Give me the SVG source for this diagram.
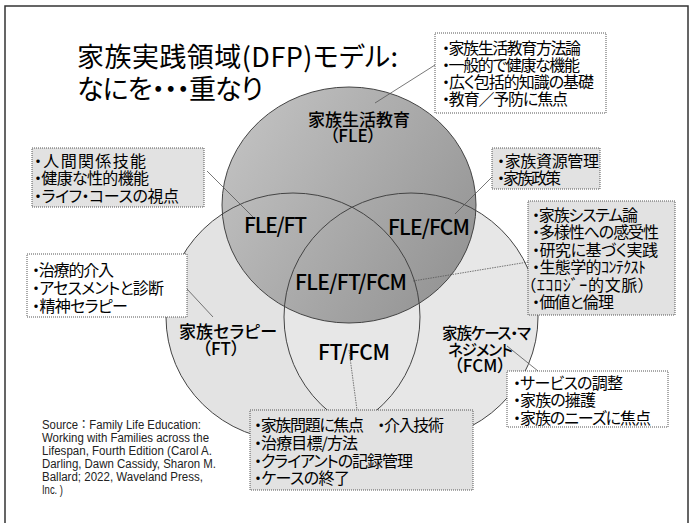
<svg xmlns="http://www.w3.org/2000/svg" width="693" height="523" viewBox="0 0 693 523">
<defs>
<linearGradient id="gFLE" x1="0" y1="0" x2="1" y2="0.6">
<stop offset="0" stop-color="#c6c6c6"/>
<stop offset="1" stop-color="#979797"/>
</linearGradient>
<style>
.jp{font-family:"Noto Sans CJK JP","Noto Sans",sans-serif;font-feature-settings:"palt";fill:#000;}
.bt{font-size:16px;}
.lbl{font-size:17px;font-weight:500;}
.lbs{font-size:15.5px;font-weight:500;}
.ab{font-size:21px;font-weight:500;}
.mid{text-anchor:middle;}
.src{font-family:"Liberation Sans","Noto Sans CJK JP",sans-serif;font-size:12.5px;fill:#222;}
.box{stroke:#555;stroke-width:1;stroke-dasharray:1 1;}
.gbox{fill:#e2e2e2;}
.wbox{fill:#ffffff;}
.outl{fill:none;stroke:#444;stroke-width:1;}
.leader{stroke:#555;stroke-width:0.8;fill:none;}
.dot{stroke-dasharray:1.5 1;}
</style>
</defs>
<rect x="0" y="0" width="693" height="523" fill="#ffffff"/>
<rect x="5" y="6" width="683" height="530" fill="none" stroke="#333" stroke-width="1.5"/>

<g id="title">
<text class="jp" x="77" y="67" font-size="27" textLength="321">家族実践領域(DFP)モデル:</text>
<text class="jp" x="77" y="99" font-size="27" textLength="186">なにを・・・重なり</text>
</g>

<g id="circle-fills">
<ellipse cx="293" cy="317" rx="127" ry="124" fill="#e3e3e3"/>
<ellipse cx="411" cy="317" rx="127" ry="124" fill="#e7e7e7"/>
<ellipse cx="349" cy="205" rx="127" ry="118" fill="url(#gFLE)"/>
</g>
<g id="circle-outlines">
<ellipse class="outl" cx="293" cy="317" rx="127" ry="124"/>
<ellipse class="outl" cx="411" cy="317" rx="127" ry="124"/>
<ellipse class="outl" cx="349" cy="205" rx="127" ry="118"/>
</g>

<g id="FLE">
<text class="jp lbl" x="308" y="125.5">家族生活教育</text>
<text class="jp lbl mid" x="353" y="141.5">（FLE）</text>
</g>
<g id="FT">
<text class="jp lbl" x="179" y="337.5" textLength="98">家族セラピー</text>
<text class="jp lbl mid" x="221" y="354.5">（FT）</text>
</g>
<g id="FCM">
<text class="jp lbs" x="442" y="339" textLength="89">家族ケース・マ</text>
<text class="jp lbs" x="448" y="356" textLength="65">ネジメント</text>
<text class="jp lbl mid" x="480" y="372">（FCM）</text>
</g>
<g id="FLE-FT"><text class="jp ab" x="244" y="233" textLength="63">FLE/FT</text></g>
<g id="FLE-FCM"><text class="jp ab" x="388" y="235" textLength="82">FLE/FCM</text></g>
<g id="FLE-FT-FCM"><text class="jp ab" x="295" y="290" textLength="112">FLE/FT/FCM</text></g>
<g id="FT-FCM"><text class="jp ab" x="318" y="360" textLength="72">FT/FCM</text></g>

<g id="connectors">
<line class="leader" x1="435" y1="65" x2="375" y2="103"/>
<line class="leader" x1="207" y1="171" x2="253" y2="217"/>
<line class="leader" x1="492" y1="177" x2="455" y2="214"/>
<line class="leader dot" x1="528" y1="262" x2="413" y2="281"/>
<line class="leader" x1="187" y1="289" x2="213" y2="317"/>
<line class="leader dot" x1="349" y1="350" x2="357" y2="410"/>
<line class="leader" x1="507" y1="346" x2="538" y2="371"/>
</g>

<g id="box-FLE">
<rect class="box wbox" x="435" y="33" width="171" height="80"/>
<text class="jp bt" x="442" y="53.5" textLength="139">・家族生活教育方法論</text>
<text class="jp bt" x="442" y="70.5" textLength="138">・一般的で健康な機能</text>
<text class="jp bt" x="442" y="87.5" textLength="152">・広く包括的知識の基礎</text>
<text class="jp bt" x="442" y="105" textLength="126">・教育／予防に焦点</text>
</g>
<g id="box-FLE-FT">
<rect class="box gbox" x="32" y="148" width="172" height="59"/>
<text class="jp bt" x="34" y="167" textLength="112">・人間関係技能</text>
<text class="jp bt" x="34" y="184" textLength="115">・健康な性的機能</text>
<text class="jp bt" x="34" y="201.5" textLength="145">・ライフ・コースの視点</text>
</g>
<g id="box-FLE-FCM">
<rect class="box gbox" x="492" y="148" width="108" height="41"/>
<text class="jp bt" x="497" y="167" textLength="102">・家族資源管理</text>
<text class="jp bt" x="497" y="184" textLength="64">・家族政策</text>
</g>
<g id="box-FLE-FT-FCM">
<rect class="box gbox" x="528" y="201" width="147" height="114"/>
<text class="jp bt" x="532" y="220.5" textLength="106">・家族システム論</text>
<text class="jp bt" x="532" y="238" textLength="127">・多様性への感受性</text>
<text class="jp bt" x="532" y="255.6" textLength="126">・研究に基づく実践</text>
<text class="jp bt" x="532" y="273.2" textLength="114">・生態学的ｺﾝﾃｸｽﾄ</text>
<text class="jp bt" x="528" y="290.8" textLength="118">（ｴｺﾛｼﾞｰ的文脈）</text>
<text class="jp bt" x="532" y="308.4" textLength="82">・価値と倫理</text>
</g>
<g id="box-FT">
<rect class="box wbox" x="27" y="254" width="160" height="63"/>
<text class="jp bt" x="32" y="275.5" textLength="82">・治療的介入</text>
<text class="jp bt" x="32" y="293.5" textLength="132">・アセスメントと診断</text>
<text class="jp bt" x="32" y="311.5" textLength="96">・精神セラピー</text>
</g>
<g id="box-FT-FCM">
<rect class="box gbox" x="250" y="410" width="223" height="80"/>
<text class="jp bt" x="254" y="431" textLength="190">・家族問題に焦点　・介入技術</text>
<text class="jp bt" x="254" y="449" textLength="104">・治療目標/方法</text>
<text class="jp bt" x="254" y="467" textLength="159">・クライアントの記録管理</text>
<text class="jp bt" x="254" y="484" textLength="96">・ケースの終了</text>
</g>
<g id="box-FCM">
<rect class="box wbox" x="507" y="371" width="161" height="56"/>
<text class="jp bt" x="513" y="388.5" textLength="110">・サービスの調整</text>
<text class="jp bt" x="513" y="406" textLength="83">・家族の擁護</text>
<text class="jp bt" x="513" y="424" textLength="138">・家族のニーズに焦点</text>
</g>

<g id="source">
<text class="src" x="42" y="429" textLength="159" lengthAdjust="spacingAndGlyphs">Source：Family Life Education:</text>
<text class="src" x="42" y="442" textLength="167" lengthAdjust="spacingAndGlyphs">Working with Families across the</text>
<text class="src" x="42" y="455" textLength="170" lengthAdjust="spacingAndGlyphs">Lifespan, Fourth Edition (Carol A.</text>
<text class="src" x="42" y="468" textLength="174" lengthAdjust="spacingAndGlyphs">Darling, Dawn Cassidy, Sharon M.</text>
<text class="src" x="42" y="481" textLength="161" lengthAdjust="spacingAndGlyphs">Ballard; 2022, Waveland Press,</text>
<text class="src" x="42" y="494" textLength="21" lengthAdjust="spacingAndGlyphs">Inc. )</text>
</g>
</svg>
